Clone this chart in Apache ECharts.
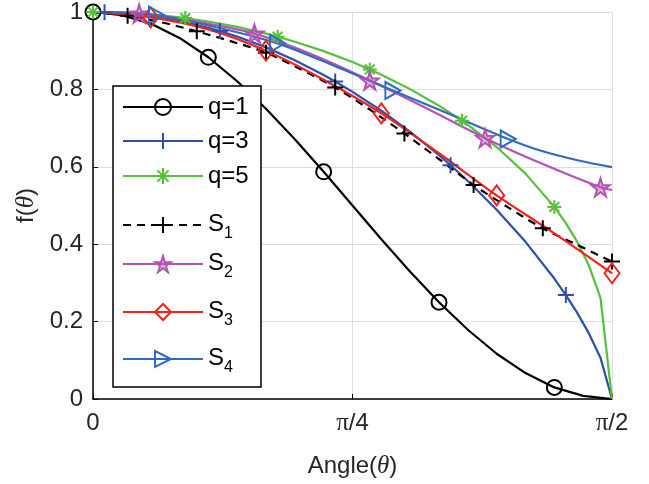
<html>
<head>
<meta charset="utf-8" />
<title>f(theta)</title>
<script src="https://cdn.jsdelivr.net/npm/echarts@6/dist/echarts.min.js"></script>
<style type="text/css">
body { margin: 0; background: #fff; }
#main { width: 649px; height: 484px; }
</style>
</head>
<body>
<div id="main"></div>
<script type="text/javascript">
var myChart = echarts.init(document.getElementById("main"));

// angle in degrees (0 .. 90 = 0 .. pi/2)
var q1X = [0, 5, 10, 15, 20, 25, 30, 35, 40, 45, 50, 55, 60, 65, 70, 75, 80, 85, 90];
var q1Y = [1, 0.992, 0.970, 0.933, 0.883, 0.821, 0.750, 0.671, 0.587, 0.500, 0.413, 0.329, 0.250, 0.179, 0.117, 0.067, 0.030, 0.008, 0];
var q1Marks = [0, 20, 40, 60, 80];

var q3X = [0, 2, 5, 10, 15, 20, 22, 25, 30, 35, 40, 42, 45, 50, 55, 60, 62, 65, 70, 75, 80, 82, 84, 86, 88, 90];
var q3Y = [1, 0.9996, 0.9975, 0.9898, 0.9772, 0.9594, 0.9508, 0.9366, 0.9086, 0.8754, 0.8372, 0.8204, 0.7937, 0.7448, 0.6904, 0.6300, 0.6040, 0.5632, 0.4891, 0.4061, 0.3113, 0.2686, 0.2219, 0.1695, 0.1068, 0];
var q3Marks = [2, 22, 42, 62, 82];

var q5X = [0, 5, 10, 15, 16, 20, 25, 30, 32, 35, 40, 45, 48, 50, 55, 60, 64, 65, 70, 75, 80, 82, 84, 86, 88, 90];
var q5Y = [1, 0.9985, 0.9939, 0.9862, 0.9843, 0.9754, 0.9615, 0.9441, 0.9362, 0.9233, 0.8989, 0.8706, 0.8515, 0.8379, 0.8007, 0.7579, 0.7190, 0.7085, 0.6511, 0.5824, 0.4964, 0.4544, 0.4052, 0.3447, 0.2613, 0];
var q5Marks = [0, 16, 32, 48, 64, 80];

var s1X = [0, 6, 12, 18, 24, 30, 36, 42, 48, 54, 60, 66, 72, 78, 84, 90];
var s1Y = [1, 0.990, 0.973, 0.950, 0.924, 0.895, 0.852, 0.805, 0.748, 0.686, 0.620, 0.553, 0.495, 0.441, 0.398, 0.355];
var s1Marks = [6, 18, 30, 42, 54, 66, 78, 90];

var s2X = [0, 8, 18, 28, 38, 48, 58, 68, 78, 88, 90];
var s2Y = [1, 0.996, 0.975, 0.944, 0.890, 0.823, 0.750, 0.674, 0.607, 0.547, 0.540];
var s2Marks = [8, 28, 48, 68, 88];

var s3X = [0, 10, 20, 30, 40, 50, 60, 70, 80, 90];
var s3Y = [1, 0.986, 0.955, 0.900, 0.825, 0.738, 0.635, 0.526, 0.428, 0.325];
var s3Marks = [10, 30, 50, 70, 90];

var s4X = [0, 11, 21, 32, 42, 52, 62, 72, 78, 84, 90];
var s4Y = [1, 0.992, 0.962, 0.919, 0.860, 0.797, 0.735, 0.672, 0.640, 0.617, 0.599];
var s4Marks = [11, 32, 52, 72];

var xTicks = { 0: "0", 45: "{p|\u03c0}{a|/4}", 90: "{p|\u03c0}{a|/2}" };

// 图例每一项的位置
var legendTops = [95, 129, 164, 212, 251, 299, 346];

var symPlus = "path://M5,0L5,10M0,5L10,5";
var symStar6 = "path://M5,0L5,10M0,5L10,5M1.5,1.5L8.5,8.5M1.5,8.5L8.5,1.5";
var symPenta = "path://M50,0L61,35L98,35L68,57L79,91L50,70L21,91L32,57L2,35L39,35Z";
var symTri = "path://M0,0L10,5L0,10Z";
var symDia = "path://M5,0L10,7L5,14L0,7Z";

function build(xs, ys, marks, sym) {
	return xs.map(function (x, i) {
		return { value: [x, ys[i]], symbol: marks.indexOf(x) >= 0 ? sym : "none" };
	});
}

function lineSeries(name, xs, ys, marks, sym, size, color, fill, dash, smooth) {
	return {
		name: name,
		type: "line",
		data: build(xs, ys, marks, sym),
		symbol: sym,
		symbolSize: size,
		showAllSymbol: true,
		smooth: smooth,
		color: color,
		lineStyle: { color: color, width: 2.2, type: dash || "solid" },
		itemStyle: { color: fill, borderColor: color, borderWidth: 2 },
		emphasis: { disabled: true },
	};
}

var seriesList = [
	lineSeries("q=1", q1X, q1Y, q1Marks, "circle", 15, "#000000", "rgba(255,255,255,0)", null, false),
	lineSeries("q=3", q3X, q3Y, q3Marks, symPlus, 16, "#2f4fae", "rgba(0,0,0,0)", null, false),
	lineSeries("q=5", q5X, q5Y, q5Marks, symStar6, 14, "#55c03a", "rgba(0,0,0,0)", null, false),
	lineSeries("S1", s1X, s1Y, s1Marks, symPlus, 16, "#000000", "rgba(0,0,0,0)", [8, 6], 0.3),
	lineSeries("S2", s2X, s2Y, s2Marks, symPenta, 18, "#b552b2", "rgba(181,82,178,0.45)", null, 0.3),
	lineSeries("S3", s3X, s3Y, s3Marks, symDia, [15, 20], "#f0241c", "rgba(255,255,255,0)", null, 0.3),
	lineSeries("S4", s4X, s4Y, s4Marks, symTri, [15, 17], "#2e6cc2", "rgba(255,255,255,0)", null, 0.3),
];

var legends = seriesList.map(function (s, i) {
	return {
		data: [s.name],
		left: 122,
		top: legendTops[i],
		orient: "vertical",
		itemWidth: 80,
		itemHeight: 20,
		padding: 0,
		selectedMode: false,
		z: 20,
		formatter: function (n) {
			if (n.charAt(0) === "S") return "{a|S}{b|" + n.slice(1) + "}";
			return "{c|" + n + "}";
		},
		textStyle: {
			color: "#000",
			fontSize: 24,
			fontFamily: "Liberation Sans",
			rich: {
				a: { fontSize: 24, fontFamily: "Liberation Sans", color: "#000", verticalAlign: "top", lineHeight: 26 },
				b: { fontSize: 16, fontFamily: "Liberation Sans", color: "#000", verticalAlign: "top", lineHeight: 18, padding: [14, 0, 0, 0] },
				c: { fontSize: 24, fontFamily: "Liberation Sans", color: "#000", lineHeight: 26 },
			},
		},
	};
});

option = {
	backgroundColor: "#ffffff",
	animation: false,
	grid: { left: 93, right: 37, top: 12, bottom: 85 },
	xAxis: {
		type: "value",
		min: 0,
		max: 90,
		interval: 45,
		name: "{a|Angle(}{t|\u03b8}{a|)}",
		nameLocation: "middle",
		nameGap: 55,
		nameTextStyle: {
			rich: {
				a: { fontSize: 24, fontFamily: "Liberation Sans", color: "#262626" },
				t: { fontSize: 25, fontFamily: "Liberation Serif", fontStyle: "italic", color: "#262626" },
			},
		},
		axisLine: { show: true, lineStyle: { color: "#000", width: 1.5 } },
		axisTick: { show: true, inside: true, length: 5, lineStyle: { color: "#000" } },
		axisLabel: {
			margin: 12,
			fontSize: 24,
			fontFamily: "Liberation Sans",
			color: "#262626",
			formatter: function (v) { return xTicks[v]; },
			rich: {
				p: { fontSize: 25, fontFamily: "Liberation Serif", color: "#262626" },
				a: { fontSize: 24, fontFamily: "Liberation Sans", color: "#262626" },
			},
		},
		splitLine: { show: true, lineStyle: { color: "#dedede", width: 1 } },
	},
	yAxis: {
		type: "value",
		min: 0,
		max: 1,
		interval: 0.2,
		name: "{a|f(}{t|\u03b8}{a|)}",
		nameLocation: "middle",
		nameGap: 43,
		nameTextStyle: {
			rich: {
				a: { fontSize: 24, fontFamily: "Liberation Sans", color: "#262626" },
				t: { fontSize: 25, fontFamily: "Liberation Serif", fontStyle: "italic", color: "#262626" },
			},
		},
		axisLine: { show: true, lineStyle: { color: "#000", width: 1.5 } },
		axisTick: { show: true, inside: true, length: 5, lineStyle: { color: "#000" } },
		axisLabel: { margin: 10, fontSize: 24, fontFamily: "Liberation Sans", color: "#262626" },
		splitLine: { show: true, lineStyle: { color: "#dedede", width: 1 } },
	},
	legend: legends,
	graphic: [
		{
			type: "rect",
			z: 10,
			shape: { x: 113, y: 86, width: 148, height: 301 },
			style: { fill: "#ffffff", stroke: "#000000", lineWidth: 1.5 },
		},
	],
	series: seriesList,
};

myChart.setOption(option);
</script>
</body>
</html>
